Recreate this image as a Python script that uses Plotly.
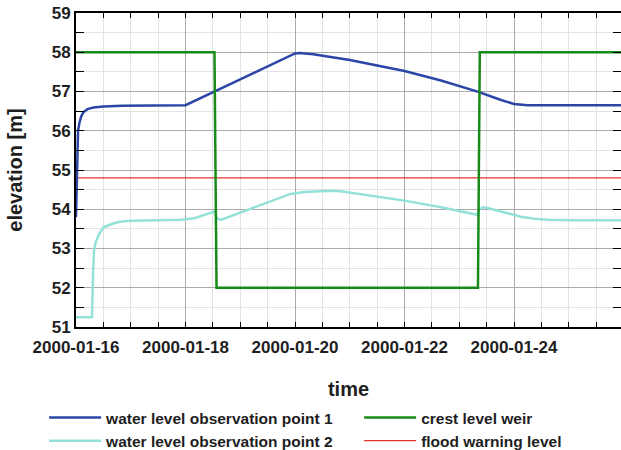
import pandas as pd
import plotly.graph_objects as go

START = pd.Timestamp("2000-01-16 00:00")
END = pd.Timestamp("2000-01-25 22:54")

# water level observation point 1 (hours since start, elevation m)
obs1_hours = [0, 0.4, 0.9, 1.5, 2.2, 3.2, 5, 7.6, 12, 20, 48, 72, 96, 98, 104, 120, 144, 160, 176.4, 186, 192, 198, 238.9]
obs1_level = [53.8, 55.0, 56.0, 56.2, 56.35, 56.47, 56.55, 56.59, 56.62, 56.64, 56.65, 57.31, 57.97, 57.98, 57.95, 57.8, 57.52, 57.28, 56.99, 56.79, 56.68, 56.65, 56.65]

# water level observation point 2
obs2_hours = [0, 7.0, 7.5, 7.9, 8.6, 10, 12, 16, 19.2, 24, 36, 46, 52, 57, 60.6, 61.3, 62, 63.5, 72, 84, 94, 100, 106, 112, 116, 124, 144, 160, 175.8, 176.6, 178.2, 180, 184, 189, 195, 201, 207, 216, 238.9]
obs2_level = [51.25, 51.25, 52.4, 52.95, 53.15, 53.35, 53.54, 53.63, 53.68, 53.71, 53.72, 53.73, 53.77, 53.86, 53.94, 53.83, 53.76, 53.73, 53.91, 54.17, 54.39, 54.44, 54.46, 54.47, 54.46, 54.39, 54.22, 54.05, 53.86, 53.98, 54.05, 54.04, 53.98, 53.9, 53.81, 53.76, 53.73, 53.72, 53.72]

# crest level weir
crest_hours = [0, 60.7, 61.6, 176.2, 177.0, 238.9]
crest_level = [58, 58, 52, 52, 58, 58]

# flood warning level
flood_hours = [0, 238.9]
flood_level = [54.8, 54.8]

y_ticks = [51, 52, 53, 54, 55, 56, 57, 58, 59]


def to_time(hours):
    return [START + pd.Timedelta(hours=h) for h in hours]


FONT = "Liberation Sans, Arial, sans-serif"
TXT = "#1e1e1e"

fig = go.Figure()
fig.add_trace(go.Scatter(x=to_time(flood_hours), y=flood_level, mode="lines",
                         name="flood warning level", line=dict(color="#e3342a", width=1.3),
                         legend="legend2", legendrank=2))
fig.add_trace(go.Scatter(x=to_time(obs1_hours), y=obs1_level, mode="lines",
                         name="water level observation point 1",
                         line=dict(color="#2c46a8", width=2.5), legend="legend", legendrank=1))
fig.add_trace(go.Scatter(x=to_time(obs2_hours), y=obs2_level, mode="lines",
                         name="water level observation point 2",
                         line=dict(color="#93e1d9", width=2.5), legend="legend", legendrank=2))
fig.add_trace(go.Scatter(x=to_time(crest_hours), y=crest_level, mode="lines",
                         name="crest level weir", line=dict(color="#178a17", width=2.5),
                         legend="legend2", legendrank=1))

leg_common = dict(orientation="v", yanchor="top", xanchor="left", itemwidth=52,
                  font=dict(family=FONT, size=15.5, color=TXT, weight="bold"),
                  bgcolor="rgba(0,0,0,0)", tracegroupgap=0)

fig.update_layout(
    width=621, height=450,
    margin=dict(l=76, r=0, t=13, b=123, autoexpand=False),
    plot_bgcolor="white", paper_bgcolor="white",
    font=dict(family=FONT, color=TXT, size=17, weight="bold"),
    showlegend=True,
    legend=dict(x=-0.0585, y=-0.2355, **leg_common),
    legend2=dict(x=0.5195, y=-0.2355, **leg_common),
)

fig.update_xaxes(
    type="date", range=[START, END],
    tick0="2000-01-16", dtick=2 * 86400000, tickformat="%Y-%m-%d",
    ticks="inside", ticklen=5, tickcolor="black", tickwidth=1, ticklabelstandoff=4,
    showline=True, linecolor="black", linewidth=2, mirror="allticks",
    showgrid=True, gridcolor="#ababab", gridwidth=1,
    minor=dict(dtick=12 * 3600000, tick0="2000-01-16", ticks="inside", ticklen=5,
               tickcolor="black", showgrid=True, gridcolor="#e3e3e3", gridwidth=1),
    title=dict(text="time", font=dict(size=20, family=FONT, weight="bold"), standoff=26),
    zeroline=False,
)
fig.update_yaxes(
    range=[51, 59], tickvals=y_ticks,
    ticks="inside", ticklen=8, tickcolor="black", tickwidth=1,
    showline=True, linecolor="black", linewidth=2, mirror="allticks",
    showgrid=True, gridcolor="#ababab", gridwidth=1,
    minor=dict(dtick=0.5, ticks="inside", ticklen=8, tickcolor="black",
               showgrid=True, gridcolor="#e3e3e3", gridwidth=1),
    title=dict(text="elevation [m]", font=dict(size=20, family=FONT, weight="bold"), standoff=24),
    zeroline=False,
)

fig.write_html("out.html", config={"displayModeBar": False},
               post_script="document.body.style.margin='0';")
